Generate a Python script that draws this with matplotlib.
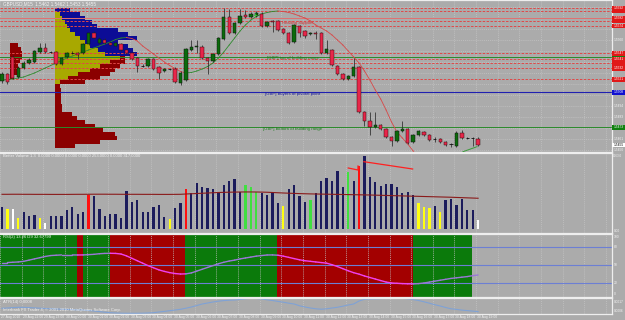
import numpy as np
import matplotlib
matplotlib.use('Agg')
import matplotlib.pyplot as plt
from matplotlib.patches import Rectangle

plt.rcParams['font.family'] = ['Liberation Sans', 'DejaVu Sans']

W, H = 625, 320
BG = '#ababab'
GRID = '#c4c4c4'
TXT = '#f4f4f4'

# ---------------- data ----------------
opens = [1.5519,1.5526,1.5543,1.5523,1.5532,1.5537,1.5538,1.5548,1.5552,1.5548,
         1.5548,1.5536,1.5543,1.5547,1.5547,1.5547,1.5556,1.5567,1.5557,1.5560,
         1.5557,1.5554,1.5556,1.5550,1.5547,1.5542,1.5534,1.5534,1.5541,1.5533,
         1.5529,1.5531,1.5531,1.5517,1.5520,1.5550,1.5553,1.5553,1.5542,1.5539,
         1.5546,1.5561,1.5583,1.5567,1.5577,1.5585,1.5583,1.5584,1.5586,1.5574,
         1.5579,1.5579,1.5571,1.5567,1.5558,1.5574,1.5569,1.5566,1.5567,1.5567,
         1.5547,1.5550,1.5534,1.5526,1.5521,1.5524,1.5533,1.5488,1.5479,1.5473,
         1.5475,1.5471,1.5463,1.5459,1.5469,1.5471,1.5458,1.5465,1.5468,1.5465,
         1.5461,1.5461,1.5458,1.5456,1.5454,1.5467,1.5462,1.5462,1.5461]
highs = [1.5528,1.5527,1.5545,1.5534,1.5539,1.5542,1.5550,1.5557,1.5557,1.5549,
         1.5549,1.5543,1.5548,1.5549,1.5548,1.5557,1.5568,1.5569,1.5563,1.5562,
         1.5559,1.5558,1.5557,1.5551,1.5548,1.5543,1.5536,1.5542,1.5542,1.5534,
         1.5532,1.5532,1.5533,1.5529,1.5552,1.5560,1.5560,1.5555,1.5543,1.5547,
         1.5563,1.5592,1.5591,1.5578,1.5591,1.5590,1.5588,1.5589,1.5588,1.5579,
         1.5580,1.5580,1.5572,1.5568,1.5576,1.5575,1.5570,1.5568,1.5569,1.5568,
         1.5560,1.5551,1.5535,1.5527,1.5525,1.5542,1.5534,1.5489,1.5488,1.5488,
         1.5476,1.5472,1.5464,1.5470,1.5479,1.5472,1.5466,1.5470,1.5469,1.5466,
         1.5463,1.5462,1.5459,1.5457,1.5469,1.5470,1.5463,1.5463,1.5463]
lows = [1.5517,1.5516,1.5521,1.5522,1.5531,1.5536,1.5537,1.5547,1.5547,1.5547,
        1.5535,1.5535,1.5542,1.5546,1.5541,1.5546,1.5555,1.5561,1.5556,1.5556,
        1.5554,1.5553,1.5549,1.5546,1.5540,1.5528,1.5533,1.5533,1.5530,1.5521,
        1.5528,1.5530,1.5517,1.5515,1.5519,1.5549,1.5547,1.5541,1.5526,1.5538,
        1.5545,1.5560,1.5566,1.5566,1.5576,1.5582,1.5582,1.5583,1.5573,1.5573,
        1.5568,1.5569,1.5566,1.5556,1.5557,1.5563,1.5562,1.5565,1.5561,1.5546,
        1.5546,1.5534,1.5525,1.5520,1.5520,1.5523,1.5487,1.5474,1.5465,1.5472,
        1.5470,1.5462,1.5454,1.5458,1.5468,1.5456,1.5457,1.5464,1.5464,1.5459,
        1.5458,1.5457,1.5454,1.5453,1.5453,1.5461,1.5461,1.5454,1.5454]
closes = [1.5526,1.5518,1.5522,1.5532,1.5537,1.5540,1.5549,1.5552,1.5548,1.5548,
          1.5536,1.5542,1.5547,1.5547,1.5545,1.5556,1.5567,1.5562,1.5561,1.5557,
          1.5555,1.5557,1.5550,1.5547,1.5541,1.5534,1.5534,1.5541,1.5531,1.5527,
          1.5531,1.5531,1.5518,1.5527,1.5551,1.5553,1.5554,1.5542,1.5539,1.5546,
          1.5562,1.5583,1.5567,1.5577,1.5584,1.5583,1.5586,1.5587,1.5574,1.5578,
          1.5578,1.5570,1.5567,1.5557,1.5575,1.5567,1.5564,1.5567,1.5566,1.5547,
          1.5551,1.5535,1.5526,1.5521,1.5524,1.5533,1.5488,1.5479,1.5473,1.5475,
          1.5471,1.5463,1.5459,1.5469,1.5471,1.5457,1.5465,1.5469,1.5465,1.5460,
          1.5461,1.5458,1.5455,1.5456,1.5467,1.5462,1.5462,1.5462,1.5455]

ma_price = [1.5520,1.55203,1.5521,1.5522,1.5523,1.5525,1.5527,1.55295,1.5532,1.55345,
            1.5537,1.55395,1.5542,1.5544,1.5546,1.5548,1.5550,1.5552,1.5554,1.5556,
            1.5558,1.55605,1.5562,1.55625,1.55615,1.5559,1.5554,1.5550,1.5546,1.5542,
            1.5538,1.55345,1.55315,1.55285,1.5527,1.55275,1.5529,1.5531,1.55335,1.5537,
            1.5542,1.5548,1.5555,1.5562,1.5569,1.5575,1.5580,1.55835,1.5586,1.55875,
            1.55885,1.5589,1.55885,1.55875,1.5586,1.5584,1.5582,1.5579,1.5575,1.5572,
            1.5569,1.5565,1.5560,1.5555,1.5549,1.5543,1.5537,1.5529,1.5520,1.5510,
            1.5501,1.5490,1.5478,1.5468,1.5462,1.5456,1.5449,1.5442]

volumes = [446,400,400,226,340,260,274,214,126,260,
           260,260,380,446,300,340,680,660,406,260,
           300,300,226,766,546,580,340,340,446,474,
           246,194,414,514,806,726,926,846,814,794,
           746,880,966,994,746,880,846,746,714,680,
           714,514,460,794,886,660,546,580,726,960,
           1014,960,1160,846,1146,960,1260,1460,1034,940,
           860,900,900,846,714,740,686,526,434,420,
           460,340,580,606,474,606,380,380,180]
vol_class = ['n','y','w','y','n','n','n','y','w','n',
             'n','n','n','n','n','n','r','n','n','n',
             'n','n','n','n','n','n','n','n','n','n',
             'n','y','n','n','r','n','n','n','n','n',
             'n','n','n','n','n','g','g','g','n','n',
             'n','n','y','n','n','n','n','g','n','n',
             'n','n','n','n','g','n','r','n','n','n',
             'n','n','n','n','n','n','n','y','y','y',
             'n','y','n','n','n','n','n','n','w']
vol_ma = [694,694,695,695,694,694,693,693,693,692,692,692,692,693,694,694,695,696,696,696,
          695,695,694,694,694,694,693,693,693,692,692,692,693,694,
          700,705,710,715,720,725,730,733,736,738,740,
          741,741,740,738,735,730,
          725,720,716,712,708,705,702,700,
          698,696,694,692,690,688,686,684,
          682,680,677,674,671,668,665,662,659,656,653,650,
          647,644,641,638,635,631,627,623,619,615]

rsi = [54,54,54.5,55,56,58,60,62,64,65.5,66,66.5,66.5,66.5,66.4,66.5,67,67.5,68.5,69,
       69.2,69,68,65,61,57,53,49,45.5,42,39.5,37.5,36,35.2,35.5,37,40,43,46,49,
       52,54.5,56.5,58,60,61.5,63,64.5,65.5,66.4,66.5,66,64.5,62.5,60.5,58.5,57,56,55,54,
       53,50.5,47.5,44,40.5,37.4,35,32,29.5,27,24.5,22,20.5,20,19.5,19.2,19,19.5,20.5,22,
       23.5,25,26.5,28,29,30,31,32.5,33.6]
rsi_state = (['G'] * 14 + ['R'] * 1 + ['G'] * 5 + ['R'] * 14 + ['G'] * 17 +
             ['R'] * 25 + ['G'] * 11)

atr = [0.00097,0.0010,0.00104,0.00107,0.00106,0.00104,0.00101,0.00098,0.00095,0.00093,
       0.0009,0.00088,0.00086,0.00083,0.00081,0.0008,0.00075,0.0007,0.00064,0.00058,
       0.00053,0.0005,0.00048,0.00047,0.00047,0.00047,0.00048,0.0005,0.00053,0.0006,
       0.00066,0.00073,0.0008,0.00087,0.00098,0.0011,0.00125,0.0014,0.0015,0.0016,
       0.00168,0.00174,0.00178,0.0018,0.00186,0.00192,0.00197,0.00195,0.0019,0.00182,
       0.00175,0.00166,0.00158,0.00148,0.0014,0.00122,0.0011,0.0010,0.00092,0.00088,
       0.00092,0.0010,0.00107,0.00118,0.0013,0.0014,0.0017,0.00187,0.0019,0.00192,
       0.00194,0.00196,0.00197,0.00197,0.00197,0.00192,0.00184,0.00175,0.00162,0.00148,
       0.00133,0.0012,0.00105,0.00092,0.00086,0.00079,0.00074,0.00069,0.00064]

# volume-profile rows (price level, yellow part, blue/red part)
prof_price = [1.5590,1.5586,1.5582,1.5578,1.5574,1.5570,1.5566,1.5562,1.5558,1.5554,
              1.5550,1.5546,1.5542,1.5538,1.5534,1.5530,1.5526,1.5522,1.5518,1.5514,
              1.5510,1.5506,1.5502,1.5498,1.5494,1.5490,1.5486,1.5482,1.5478,1.5474,
              1.5470,1.5466,1.5462,1.5458,1.5454]
prof_yellow = [0,5,7,10,12,15,20,25,30,35,43,50,65,55,45,35,23,13,5,0,
               0,0,0,0,0,0,0,0,0,0,0,0,0,0,0]
prof_blue = [15,20,23,27,30,48,53,57,33,38,35,32,0,0,0,0,0,0,0,0,
             0,0,0,0,0,0,0,0,0,0,0,0,0,0,0]
prof_red = [0,0,0,0,0,0,0,0,0,0,0,0,5,15,20,25,32,32,25,5,
            6,6,6,6,7,7,17,22,30,40,48,60,62,45,20]
small_prof_price = [1.5555,1.5551,1.5547,1.5543,1.5539,1.5535,1.5531,1.5527,1.5523]
small_prof_len = [8,11,12,12,10,8,9,7,4]

red_levels = [1.55917,1.55893,1.55817,1.5579,1.5574,1.55465,1.55407,1.55367,1.55317,1.55207]
green_levels = [1.55435,1.54725]
blue_levels = [1.55077]
price_ticks = [1.5593,1.5582,1.5571,1.5560,1.5549,1.5538,1.5527,1.5516,1.5505,
               1.5494,1.5483,1.5472,1.5461,1.5450]
time_labels = ['27 Aug 2010', '29 Aug 22:00', '29 Aug 23:00'] + \
              ['30 Aug %02d:00' % h for h in range(0, 20)]

N = len(opens)
idx = np.arange(N)
DX = 5.41                     # px per bar
X0 = 2.0                      # px of first bar
XL = ((0 - X0) / DX, (612 - X0) / DX)
PX = 1.0 / DX                 # profile unit -> bar units

fig = plt.figure(figsize=(6.25, 3.2), dpi=100, facecolor=BG)


def add_ax(x0, y0, x1, y1):
    ax = fig.add_axes([x0 / W, 1 - y1 / H, (x1 - x0) / W, (y1 - y0) / H])
    ax.set_facecolor(BG)
    ax.set_xlim(*XL)
    ax.set_xticks([])
    ax.set_yticks([])
    ax.spines['left'].set_visible(False)
    for s in ['top', 'bottom', 'right']:
        ax.spines[s].set_color('#eeeeee')
        ax.spines[s].set_linewidth(0.9)
    return ax


def vgrid(ax):
    for k in range(0, 29):
        ax.axvline(4 * k - X0 / DX, color=GRID, lw=0.5, ls=(0, (1.5, 1.5)), zorder=0.5)


def ftext(x, y, s, **kw):
    fig.text(x / W, 1 - y / H, s, **kw)


# ---------------- main price panel ----------------
ax = add_ax(0, 0, 612, 152)
ax.set_ylim(1.5448, 1.5600)
vgrid(ax)
for p in price_ticks:
    ax.axhline(p, color=GRID, lw=0.5, ls=(0, (1.5, 1.5)), zorder=0.5)

# volume profiles
left = (55 - X0) / DX
py = np.array(prof_yellow) * PX
pb = np.array(prof_blue) * PX
pr = np.array(prof_red) * PX
hgt = 0.0004
ax.barh(prof_price, py, left=left, height=hgt, color='#a8a800', lw=0, zorder=1)
ax.barh(prof_price, pb, left=left + py, height=hgt, color='#0c0c96', lw=0, zorder=1)
ax.barh(prof_price, pr, left=left + py, height=hgt, color='#8b0000', lw=0, zorder=1)
ax.barh(small_prof_price, np.array(small_prof_len) * PX, left=(10 - X0) / DX,
        height=hgt, color='#8b0000', lw=0, zorder=1)

# levels
for i, p in enumerate(red_levels):
    if i == 2:
        ax.axhline(p, color='#e07070', lw=0.7, zorder=2)
    else:
        ax.axhline(p, color='#e04848', lw=0.7, ls=(0, (2.5, 1.5)), zorder=2)
for p in green_levels:
    ax.axhline(p, color='#2a8a2a', lw=0.7, zorder=2)
for p in blue_levels:
    ax.axhline(p, color='#2020b0', lw=0.8, zorder=2)

ax.text((267 - X0) / DX, 1.55415, '[GBP] top of building range', fontsize=3.2,
        color='#1c7a1c', va='center', zorder=4)
ax.text((265 - X0) / DX, 1.55055, '[GBP] buyers of pivotal point', fontsize=3.2,
        color='#1e1ea0', va='center', zorder=4)
ax.text((263 - X0) / DX, 1.54705, '[GBP] bottom of building range', fontsize=3.2,
        color='#1c7a1c', va='center', zorder=4)
ax.text((282 - X0) / DX, 1.55773, 'Heading Support', fontsize=3.0,
        color='#d03030', va='center', zorder=4)

# moving average coloured by slope
ma = np.array(ma_price)
for i in range(len(ma) - 1):
    col = '#2e8b2e' if ma[i + 1] >= ma[i] else '#d84848'
    ax.plot([i, i + 1], [ma[i], ma[i + 1]], color=col, lw=0.6, zorder=2.5)

# candles
o = np.array(opens); c = np.array(closes); h = np.array(highs); l = np.array(lows)
ax.vlines(idx, l, h, color='#2a2a2a', lw=0.55, zorder=3)
up = c > o
dn = c < o
dj = c == o
ax.bar(idx[up], (c - o)[up], bottom=o[up], width=0.62, color='#0b6b0b',
       edgecolor='#101010', lw=0.35, zorder=3.2)
ax.bar(idx[dn], (o - c)[dn], bottom=c[dn], width=0.62, color='#e8264a',
       edgecolor='#301010', lw=0.35, zorder=3.2)
ax.hlines(o[dj], idx[dj] - 0.31, idx[dj] + 0.31, color='#101010', lw=0.6, zorder=3.2)
ax.plot([85.2, 87.8], [1.54483, 1.54533], color='#3a9a3a', lw=0.7, zorder=3)
ax.plot([46.8], [1.5585], marker='+', color='#40c040', ms=3, mew=0.6, zorder=3.5)

ftext(3, 3.5, 'GBPUSD,M15  1.5462 1.5462 1.5453 1.5455', fontsize=3.3,
      color=TXT, va='center')

# right price scale
axr = fig.add_axes([612 / W, 1 - 152 / H, 13 / W, 152 / H])
axr.set_xlim(0, 1); axr.set_ylim(1.5448, 1.5600); axr.axis('off')
bh = 0.00045
levels_all = ([(p, '#108010') for p in green_levels] +
              [(p, '#e01818') for p in red_levels] +
              [(p, '#1010d0') for p in blue_levels])
for p in price_ticks:
    if all(abs(p - q) > 0.0005 for q, _ in levels_all) and abs(p - closes[-1]) > 0.0005:
        axr.text(0.1, p, '%.4f' % p, fontsize=2.3, color=TXT, va='center')
for p, col in levels_all:
    axr.add_patch(Rectangle((0.02, p - bh / 2), 0.98, bh, color=col, lw=0))
last = None
for p, col in sorted(levels_all, key=lambda t: -t[0]):
    if last is None or abs(last - p) >= 0.0005:
        axr.text(0.1, p, '%.4f' % p, fontsize=2.3, color='white', va='center')
        last = p
axr.add_patch(Rectangle((0.02, closes[-1] - bh / 2), 0.98, bh, color='white', lw=0))
axr.text(0.1, closes[-1], '%.4f' % closes[-1], fontsize=2.3, color='black', va='center')

# ---------------- volume panel ----------------
av = add_ax(0, 153, 612, 232.5)
av.set_ylim(-70, 1520)
vgrid(av)
cmap = {'n': '#1c1c5c', 'y': '#ffff10', 'w': '#ffffff', 'r': '#ff1010', 'g': '#40e040'}
av.bar(idx, volumes, width=0.42, color=[cmap[k] for k in vol_class], lw=0, zorder=2)
av.plot(idx, vol_ma, color='#8a1a1a', lw=0.8, zorder=2.5)
av.plot([64.0, 65.8, 65.8], [1220, 1180, 1260], color='#ff2020', lw=0.9, zorder=3)
av.plot([66.9, 75.9], [1346, 1200], color='#ff2020', lw=0.9, zorder=3)
ftext(3, 156, 'Better Volume 1.3  0.0000 0.0000 0.0000 0.0000 253.0000 0.0000 317.0000',
      fontsize=3.0, color=TXT, va='center')
ftext(613.2, 156, '1563.0', fontsize=2.2, color=TXT, va='center')
ftext(613.5, 230.5, '0.00', fontsize=2.3, color=TXT, va='center')

# ---------------- RSI panel ----------------
ar = add_ax(0, 233.5, 612, 296.7)
ar.set_ylim(-1.97, 101.64)
for i, s in enumerate(rsi_state):
    x0 = XL[0] if i == 0 else i - 0.1
    ar.axvspan(x0, i + 0.9, color='#0b7a0b' if s == 'G' else '#a30000', lw=0, zorder=0.3)
vgrid(ar)
for lv in (80, 50, 20):
    ar.axhline(lv, color='#6c7fd4', lw=0.8, zorder=1.5)
for i in range(N - 1):
    st = rsi_state[i] if i < len(rsi_state) else 'G'
    col = '#9a78d8' if st == 'G' else '#f040f0'
    ar.plot([i, i + 1], [rsi[i], rsi[i + 1]], color=col, lw=1.0, zorder=2,
            solid_capstyle='round')
ftext(3, 237, 'RSI(2) 13.26 D9 32.67799', fontsize=3.0, color=TXT, va='center')
for lv, yy in ((100, 236.8), (80, 246.7), (50, 265), (20, 283.3), (0, 293.8)):
    ftext(614, yy, str(lv), fontsize=2.4, color=TXT, va='center')

# ---------------- ATR panel ----------------
aa = add_ax(0, 297.5, 612, 313.5)
aa.set_ylim(0.00045, 0.00205)
vgrid(aa)
aa.plot(idx, atr, color='#7fa2d6', lw=0.8, zorder=2)
ftext(3, 301.7, 'ATR(14) 0.0008', fontsize=3.0, color=TXT, va='center')
ftext(3, 310.3, 'Interbank FX Trader 4, \u00a9 2001-2010 MetaQuotes Software Corp.',
      fontsize=3.0, color=TXT, va='center')
ftext(613.5, 301.7, '0.0017', fontsize=2.3, color=TXT, va='center')
ftext(613.5, 310.8, '0.0006', fontsize=2.3, color=TXT, va='center')

# ---------------- time axis ----------------
for k, lab in enumerate(time_labels):
    ftext(21.64 * k + 1, 317, lab, fontsize=2.4, color=TXT, va='center')

fig.savefig('out.png', dpi=100, facecolor=BG)
